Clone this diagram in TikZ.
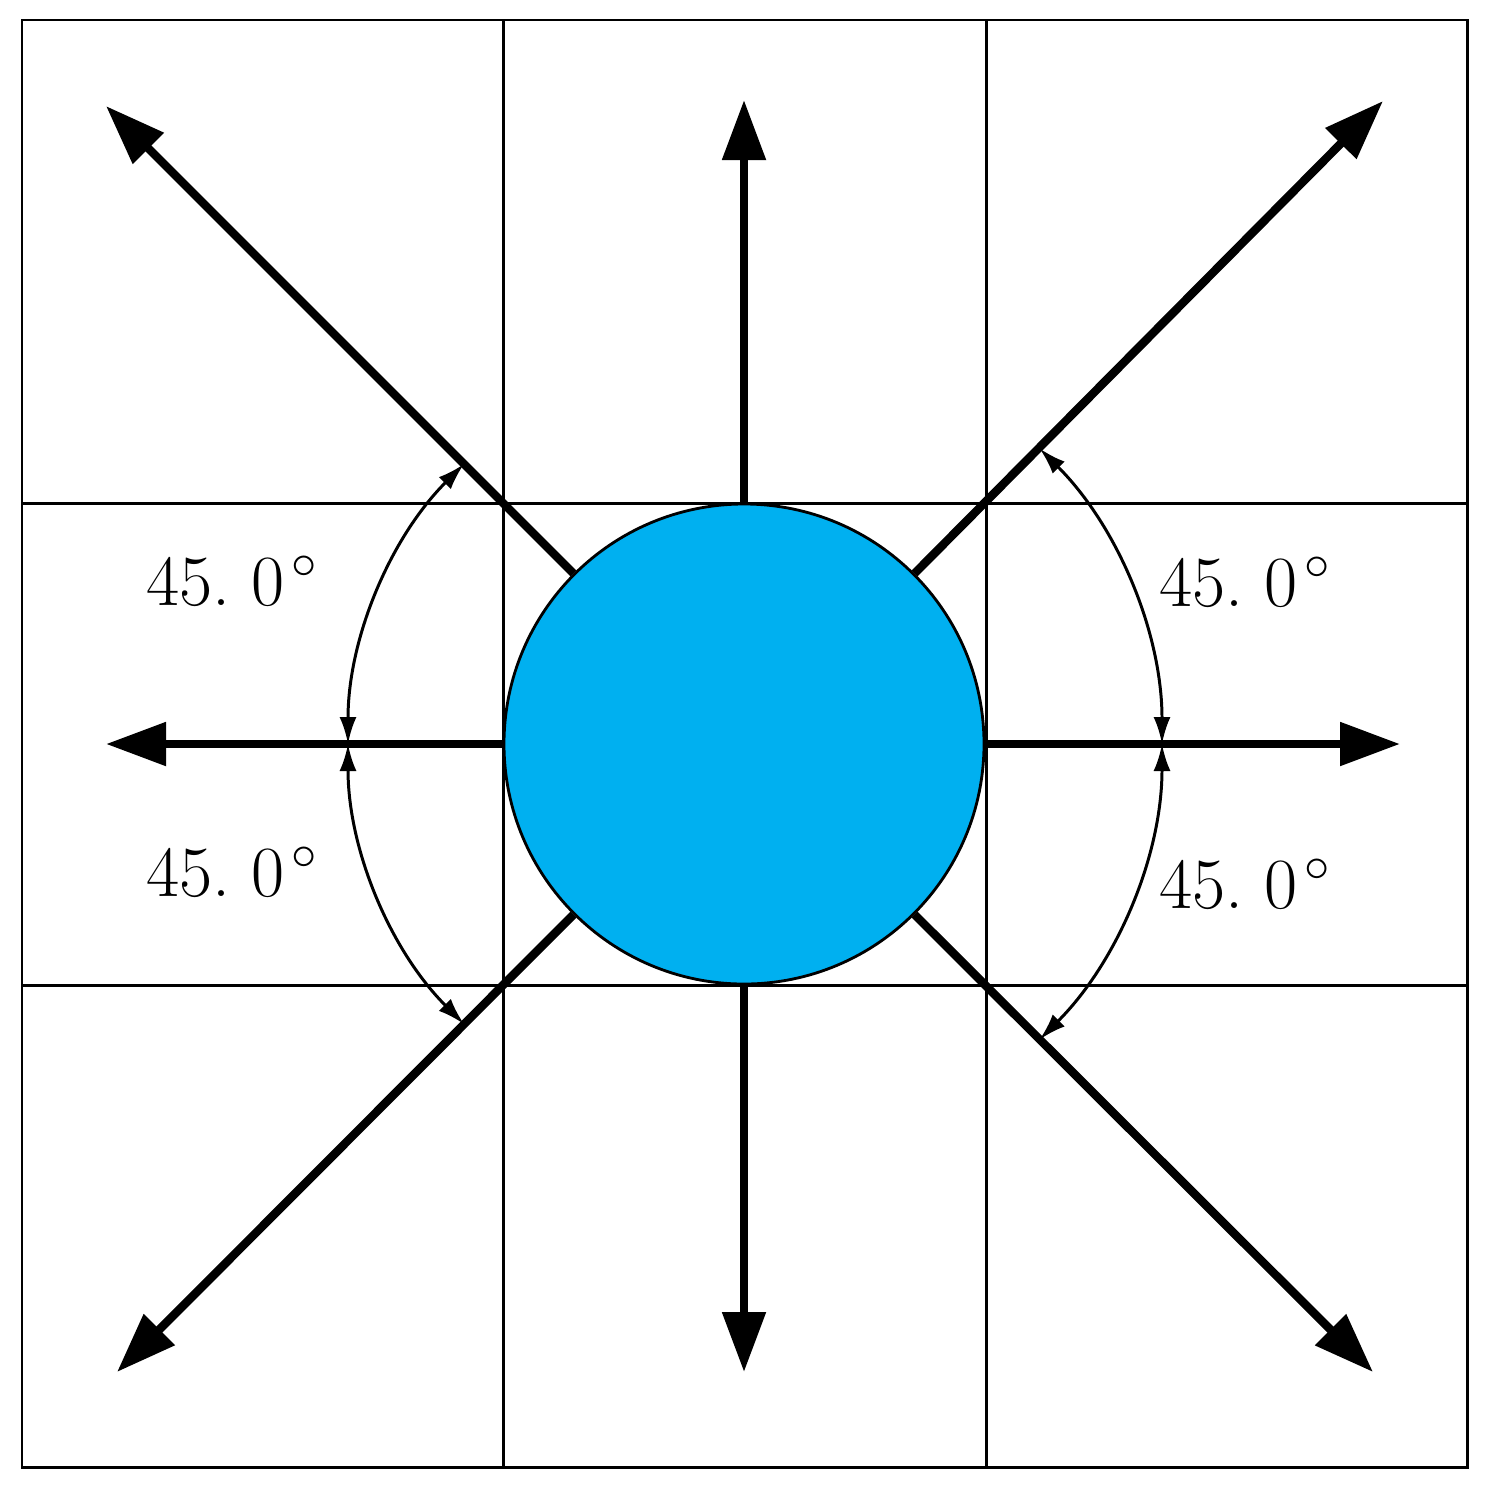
\documentclass[tikz,border=0pt]{standalone}
\usetikzlibrary{arrows.meta}
\definecolor{ballblue}{HTML}{00B0F0}
\begin{document}
\begin{tikzpicture}[
  gridline/.style={line width=0.85pt},
  bigarrow/.style={line width=2.4pt,-{Triangle[length=0.6cm,width=0.42cm]}},
  anglearc/.style={line width=0.85pt,{Latex[length=0.27cm,width=0.17cm]}-{Latex[length=0.27cm,width=0.17cm]}},
  anglelabel/.style={anchor=base west,inner sep=0pt,font=\fontsize{20.5}{24}\selectfont}
]
\useasboundingbox (0,0) rectangle (14.99,-14.92);
% grid
\draw[gridline] (0.22,-0.20) rectangle (14.67,-14.67);
\draw[gridline] (5.03,-0.20) -- (5.03,-14.67);
\draw[gridline] (9.86,-0.20) -- (9.86,-14.67);
\draw[gridline] (0.22,-5.03) -- (14.67,-5.03);
\draw[gridline] (0.22,-9.85) -- (14.67,-9.85);
% central ball
\node[circle,draw,line width=0.8pt,fill=ballblue,minimum size=4.8cm,inner sep=0pt] (c) at (7.44,-7.44) {};
% arrow tips
\coordinate (tN) at (7.44,-1.00);
\coordinate (tS) at (7.44,-13.72);
\coordinate (tW) at (1.06,-7.44);
\coordinate (tE) at (14.00,-7.44);
\coordinate (tNW) at (1.06,-1.06);
\coordinate (tNE) at (13.83,-1.01);
\coordinate (tSW) at (1.17,-13.72);
\coordinate (tSE) at (13.73,-13.72);
\draw[bigarrow] (c.north) -- (tN);
\draw[bigarrow] (c.south) -- (tS);
\draw[bigarrow] (c.west) -- (tW);
\draw[bigarrow] (c.east) -- (tE);
\draw[bigarrow] (c.135) -- (tNW);
\draw[bigarrow] (c.45) -- (tNE);
\draw[bigarrow] (c.225) -- (tSW);
\draw[bigarrow] (c.315) -- (tSE);
% angle arcs
\draw[anglearc] ([shift={(180:3.96)}]c.center) arc[start angle=180,end angle=135,radius=3.96];
\draw[anglearc] ([shift={(180:3.96)}]c.center) arc[start angle=180,end angle=225,radius=3.96];
\draw[anglearc] ([shift={(0:4.18)}]c.center) arc[start angle=0,end angle=45,radius=4.18];
\draw[anglearc] ([shift={(0:4.18)}]c.center) arc[start angle=0,end angle=-45,radius=4.18];
% labels
\node[anglelabel] (l1) at (1.46,-6.05) {45.\hspace{0.28em}0\hspace{0.1em}$^\circ$};
\node[anglelabel] (l2) at (1.46,-8.96) {45.\hspace{0.28em}0\hspace{0.1em}$^\circ$};
\node[anglelabel] (l3) at (11.59,-6.06) {45.\hspace{0.28em}0\hspace{0.1em}$^\circ$};
\node[anglelabel] (l4) at (11.59,-9.08) {45.\hspace{0.28em}0\hspace{0.1em}$^\circ$};
\end{tikzpicture}
\end{document}
